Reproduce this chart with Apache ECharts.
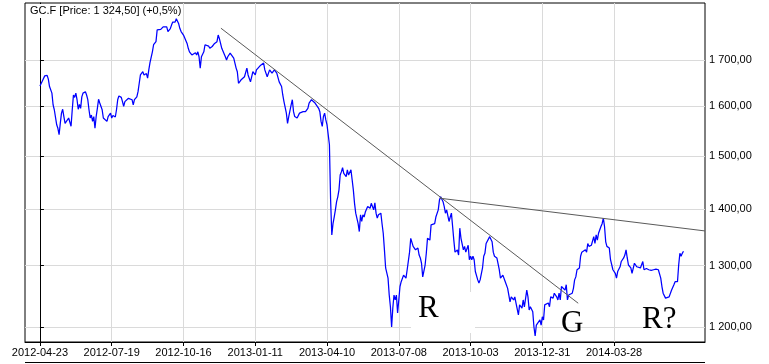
<!DOCTYPE html>
<html><head><meta charset="utf-8">
<script src="https://cdn.jsdelivr.net/npm/echarts@6/dist/echarts.min.js"></script>
<style>html,body{margin:0;padding:0;background:#fff}#c{width:769px;height:364px}</style>
</head><body><div id="c"></div>
<script>
// trading-day offset from 2012-04-23
const tradingDay = [0,1,2,4,6,7,8,10,11,12,13,14,15,16,17,18,19,20,21,22,24,25,26,27,28,29,30,31,32,33,34,35,36,38,39,40,41,42,43,44,45,46,47,48,49,50,52,53,54,56,57,59,60,61,63,64,65,66,68,69,70,71,72,74,75,77,78,79,81,82,83,84,86,87,89,90,91,92,93,94,95,97,98,99,101,103,104,106,107,109,110,111,113,114,116,117,118,120,121,123,124,125,127,128,130,131,132,133,134,135,137,138,139,141,142,144,145,146,148,149,150,151,152,153,155,156,157,159,160,162,163,164,165,166,168,169,171,172,173,174,176,177,178,180,181,182,184,185,187,188,190,191,192,194,195,196,198,199,200,201,202,203,204,205,206,207,208,209,210,211,212,213,214,215,217,218,220,221,222,224,225,226,227,228,230,231,233,234,235,236,237,238,239,240,241,242,243,244,245,246,247,248,249,250,251,252,253,254,256,257,258,260,261,262,263,264,266,267,268,269,270,271,272,273,274,276,277,279,280,281,282,283,285,286,287,288,289,290,291,292,293,294,295,296,297,298,299,300,301,302,304,305,306,307,309,310,312,313,314,316,317,318,319,320,322,323,324,326,327,328,330,331,333,334,335,337,338,339,340,342,343,344,345,346,347,349,350,351,352,354,355,356,358,359,360,361,362,363,364,366,367,368,370,371,372,373,374,376,377,378,379,380,382,383,384,385,387,388,389,391,392,393,394,396,397,398,400,401,403,404,405,407,408,409,410,412,413,414,415,416,418,419,420,421,422,423,425,426,427,429,430,432,433,434,435,436,437,439,440,441,442,443,445,446,447,448,449,451,452,453,454,456,457,458,459,460,461,463,464,465,466,467,468,469,470,471,472,473,474,476,477,478,479,481,482,483,485,486,488,489,490,491,492,494,495,496,497,499,500,502,503,504,505,506,507,509,510,511,513,514,515,517,518,519,520,521,523,524,526,527,528,530,531,532,533,534,535,536,537,538];
const price = [1643,1642,1654,1665,1666,1658,1642,1628,1603,1593,1589,1562,1555,1542,1565,1586,1594,1579,1565,1562,1576,1572,1559,1593,1624,1619,1628,1614,1594,1604,1596,1620,1628,1631,1624,1614,1593,1576,1582,1569,1579,1555,1579,1596,1615,1607,1593,1576,1579,1569,1579,1586,1576,1581,1578,1593,1614,1622,1619,1610,1600,1610,1614,1617,1619,1614,1603,1614,1620,1631,1649,1667,1674,1667,1670,1660,1678,1694,1696,1718,1734,1741,1768,1771,1769,1775,1771,1775,1764,1771,1779,1786,1786,1794,1782,1771,1764,1756,1752,1737,1726,1718,1711,1715,1716,1711,1718,1707,1682,1707,1718,1734,1730,1731,1726,1730,1731,1737,1741,1756,1748,1737,1726,1722,1707,1700,1707,1715,1715,1704,1693,1682,1674,1649,1656,1660,1663,1660,1682,1667,1652,1663,1674,1667,1678,1682,1687,1689,1693,1678,1663,1660,1678,1671,1674,1678,1671,1667,1652,1649,1642,1624,1610,1607,1586,1565,1579,1582,1603,1614,1589,1579,1576,1576,1586,1582,1589,1593,1589,1596,1607,1610,1614,1615,1607,1603,1596,1589,1569,1559,1579,1586,1572,1562,1562,1522,1416,1353,1373,1385,1398,1413,1422,1435,1463,1469,1477,1466,1460,1473,1463,1473,1454,1435,1410,1392,1373,1359,1389,1377,1389,1385,1394,1392,1404,1401,1410,1398,1411,1392,1383,1389,1392,1373,1356,1327,1296,1293,1279,1251,1232,1200,1230,1251,1243,1251,1222,1243,1265,1273,1284,1281,1279,1293,1323,1347,1333,1330,1327,1330,1318,1313,1304,1281,1301,1321,1347,1344,1371,1368,1373,1385,1398,1416,1422,1413,1404,1392,1398,1377,1385,1392,1368,1344,1323,1327,1318,1365,1347,1327,1333,1323,1335,1310,1316,1310,1316,1310,1290,1276,1271,1276,1296,1316,1321,1338,1341,1350,1350,1341,1323,1316,1313,1310,1293,1279,1284,1287,1273,1262,1259,1240,1248,1243,1248,1238,1219,1235,1230,1243,1232,1259,1248,1227,1232,1224,1200,1186,1203,1200,1211,1203,1216,1211,1235,1232,1238,1232,1248,1246,1254,1248,1243,1254,1243,1265,1268,1259,1268,1243,1251,1248,1254,1262,1276,1281,1293,1296,1316,1323,1321,1327,1323,1338,1333,1330,1335,1350,1338,1353,1344,1356,1359,1368,1373,1383,1368,1341,1333,1330,1310,1307,1293,1287,1279,1290,1298,1307,1313,1318,1327,1313,1301,1296,1287,1284,1304,1298,1301,1296,1293,1307,1293,1291,1295,1293,1294,1292,1293,1295,1294,1293,1291,1279,1265,1254,1246,1243,1248,1251,1259,1268,1273,1276,1273,1301,1321,1316,1321,1324.5];
const tickDays = [0,60,120,180,240,300,360,420,480];
const tickLabels = ['2012-04-23','2012-07-19','2012-10-16','2013-01-11','2013-04-10','2013-07-08','2013-10-03','2013-12-31','2014-03-28'];
const priceTicks = [1200,1300,1400,1500,1600,1700];
const titleText = 'GC.F [Price: 1 324,50] (+0,5%)';
const trendStart1 = [151.3, 1771.8], trendEnd1 = [450, 1237.7];
const trendStart2 = [334.4, 1419.4], trendEnd2 = [556, 1360.1];
const noteTexts = ['R', 'G', 'R?'];

const seriesData = tradingDay.map((d, i) => [d, price[i]]);
const fmtPrice = v => { const s = String(Math.round(v)); return s.slice(0, s.length - 3) + ' ' + s.slice(-3) + ',00'; };
const sans = '"Liberation Sans", Arial, sans-serif';
const serif = '"Liberation Serif", "Times New Roman", serif';

const chart = echarts.init(document.getElementById('c'), null, {renderer: 'canvas'});
chart.setOption({
  animation: false,
  backgroundColor: '#fff',
  grid: {left: 25, right: 64, top: 3, bottom: 22, show: true, borderColor: '#000', borderWidth: 1, backgroundColor: 'transparent'},
  xAxis: {
    type: 'value', min: -12.5, max: 556,
    axisLine: {show: true, onZero: false, lineStyle: {color: '#000', width: 1}},
    axisTick: {show: true, length: 4, customValues: tickDays, lineStyle: {color: '#000'}},
    axisLabel: {customValues: tickDays, margin: 5, color: '#000', fontSize: 11, fontFamily: sans,
      formatter: v => { const k = tickDays.indexOf(Math.round(v)); return k >= 0 ? tickLabels[k] : ''; }},
    splitLine: {show: true, lineStyle: {color: '#dadada', width: 1}}
  },
  yAxis: {
    type: 'log', logBase: 10, min: 1176.7, max: 1831, position: 'right',
    axisLine: {show: true, lineStyle: {color: '#000', width: 1}},
    axisTick: {show: true, length: 4, customValues: priceTicks, lineStyle: {color: '#000'}},
    axisLabel: {customValues: priceTicks, margin: 4, color: '#000', fontSize: 11, fontFamily: sans, formatter: fmtPrice},
    splitLine: {show: true, lineStyle: {color: '#dadada', width: 1}}
  },
  series: [{
    type: 'line', data: seriesData, symbol: 'none', z: 3,
    lineStyle: {color: '#0000ff', width: 1.25},
    markLine: {
      silent: true, symbol: 'none', label: {show: false},
      lineStyle: {color: '#5a5a5a', width: 1, type: 'solid'},
      data: [
        [{coord: trendStart1}, {coord: trendEnd1}],
        [{coord: trendStart2}, {coord: trendEnd2}]
      ]
    }
  }],
  graphic: [
    {type: 'rect', z: 1, shape: {x: 26, y: 4, width: 153, height: 14}, style: {fill: '#fff'}},
    {type: 'text', z: 5, left: 30, top: 5, style: {text: titleText, font: '11px ' + sans, fill: '#000'}},
    {type: 'rect', z: 1, shape: {x: 411, y: 292, width: 64, height: 41}, style: {fill: '#fff'}},
    {type: 'text', z: 5, left: 418, top: 293, style: {text: noteTexts[0], font: '31px ' + serif, fill: '#000'}},
    {type: 'text', z: 5, left: 561, top: 308, style: {text: noteTexts[1], font: '31px ' + serif, fill: '#000'}},
    {type: 'text', z: 5, left: 642, top: 304, style: {text: noteTexts[2], font: '31px ' + serif, fill: '#000'}},
    {type: 'line', z: 5, shape: {x1: 25, y1: 362.5, x2: 705, y2: 362.5}, style: {stroke: '#000', lineWidth: 1}}
  ]
});
</script></body></html>
